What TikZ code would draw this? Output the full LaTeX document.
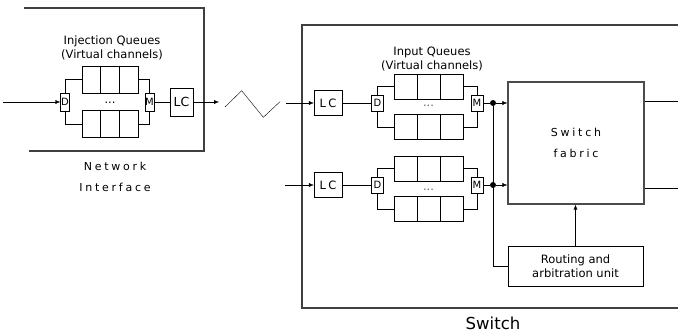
\documentclass[tikz,border=0pt]{standalone}
\usepackage{fontspec}
\setmainfont{DejaVu Sans}
\usetikzlibrary{positioning}
\usetikzlibrary{calc}
\usetikzlibrary{arrows.meta}

\tikzset{
	box/.style = {draw, fill = white, inner sep = 0pt},
	dmbox/.style = {box, minimum width = 9pt, minimum height = 18pt, font = \fontsize{10}{12}\selectfont},
	lcbox/.style = {box, minimum width = 23pt, minimum height = 28pt, font = \fontsize{12.5}{14}\selectfont},
	queue/.style = {box, minimum width = 56pt, minimum height = 27pt},
	outer/.style = {black!75, line width = 1.3pt},
	spaced/.style = {font = \fontsize{11}{21}\selectfont\addfontfeature{LetterSpace = 25}},
	junction/.style = {circle, fill, inner sep = 0pt, minimum size = 6pt}
}

\begin{document}
\begin{tikzpicture}[x = 1pt, y = -1pt, >={Latex[length = 5pt, width = 4pt]}, font = \fontsize{11.5}{14}\selectfont]
	\useasboundingbox (0, 0) rectangle (678, 332);
	% network interface
	\draw [outer] (24, 8) -- (204, 8) -- (204, 151) -- (29, 151);
	\node (injlabel) at (112, 48) [align = center] {Injection Queues\\(Virtual channels)};
	\node [queue] (qa) at (110, 79.5) {};
	\node [queue] (qb) at (110, 124) {};
	\node (dotsa) at (110, 103) {...};
	\node [dmbox] (da) at (65, 102) {D};
	\node [dmbox] (ma) at (149.5, 102) {M};
	\node [lcbox] (lca) at (181.5, 102) {LC};
	\coordinate (ina) at (3, 102);
	\coordinate (outa) at (219, 102);
	\draw [->] (ina) -- (da);
	\draw (da) |- (qa);
	\draw (da) |- (qb);
	\draw (qa) -| (ma);
	\draw (qb) -| (ma);
	\draw (ma) -- (lca);
	\draw [->] (lca) -- (outa);
	\node (nilabel) at (115, 166) [spaced] {Network};
	\node (nilabelb) at (115, 187) [spaced] {Interface};
	% link
	\draw (225, 107) -- (241.7, 90.7) -- (263.3, 117.3) -- (280, 101.7);
	% switch
	\draw [outer] (678, 25) -- (302, 25) -- (302, 308) -- (678, 308);
	\node (inlabel) at (432, 59) [align = center] {Input Queues\\(Virtual channels)};
	\node [lcbox, minimum width = 28pt, minimum height = 25pt, font = \fontsize{11.5}{14}\selectfont\addfontfeature{LetterSpace = 20}] (lcb) at (328, 103) {LC};
	\node [lcbox, minimum width = 28pt, minimum height = 25pt, font = \fontsize{11.5}{14}\selectfont\addfontfeature{LetterSpace = 20}] (lcc) at (328, 185) {LC};
	\node [dmbox, minimum width = 12pt, minimum height = 16pt] (db) at (377.5, 103) {D};
	\node [dmbox, minimum width = 12pt, minimum height = 16pt] (dc) at (377.5, 185) {D};
	\node [dmbox, minimum width = 12pt, minimum height = 16pt] (mb) at (477, 103) {M};
	\node [dmbox, minimum width = 12pt, minimum height = 16pt] (mc) at (477, 185) {M};
	\node [queue, minimum width = 69pt, minimum height = 25pt] (qc) at (428.5, 86.5) {};
	\node [queue, minimum width = 69pt, minimum height = 25pt] (qd) at (428.5, 127) {};
	\node [queue, minimum width = 69pt, minimum height = 25pt] (qe) at (428.5, 168.5) {};
	\node [queue, minimum width = 69pt, minimum height = 25pt] (qf) at (428.5, 209) {};
	\node [text = black!60] (dotsb) at (428.5, 106) {...};
	\node [text = black!60] (dotsc) at (428.5, 190) {...};
	\node [box, draw = black!70, line width = 1.3pt, minimum width = 136pt, minimum height = 122pt, align = center, spaced] (fab) at (576, 143) {Switch\\fabric};
	\node [box, minimum width = 135pt, minimum height = 40pt, align = center] (rout) at (575.5, 266) {Routing and\\arbitration unit};
	\node [junction] (jb) at (493, 103) {};
	\node [junction] (jc) at (493, 185) {};
	\coordinate (inb) at (286, 103);
	\coordinate (inc) at (285, 185);
	\coordinate (outb) at (678, 101);
	\coordinate (outc) at (678, 188);
	\draw [->] (inb) -- (lcb);
	\draw [->] (inc) -- (lcc);
	\draw (lcb) -- (db);
	\draw (lcc) -- (dc);
	\draw (db) |- (qc);
	\draw (db) |- (qd);
	\draw (dc) |- (qe);
	\draw (dc) |- (qf);
	\draw (qc) -| (mb);
	\draw (qd) -| (mb);
	\draw (qe) -| (mc);
	\draw (qf) -| (mc);
	\draw (mb) -- (jb);
	\draw (mc) -- (jc);
	\draw [->] (jb) -- (jb -| fab.west);
	\draw [->] (jc) -- (jc -| fab.west);
	\draw (jb) |- (rout);
	\draw [->] (rout.north) -- (rout.north |- fab.south);
	\draw (fab.east |- outb) -- (outb);
	\draw (fab.east |- outc) -- (outc);
	\node (swlabel) at (493, 323) [font = \fontsize{16.5}{18}\selectfont] {Switch};
	% queue cells
	\foreach \q in {qa, qb, qc, qd, qe, qf}
		\foreach \k in {1, 2}
			\draw ($(\q.north west)!\k/3!(\q.north east)$) -- ($(\q.south west)!\k/3!(\q.south east)$);
\end{tikzpicture}
\end{document}
